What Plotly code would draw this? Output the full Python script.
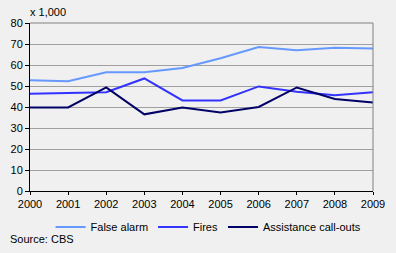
import plotly.graph_objects as go

years = [2000, 2001, 2002, 2003, 2004, 2005, 2006, 2007, 2008, 2009]
false_alarm = [52.7, 52.3, 56.5, 56.5, 58.6, 63.2, 68.6, 67.0, 68.2, 67.8]
fires = [46.3, 46.8, 47.0, 53.6, 43.1, 43.1, 49.8, 47.3, 45.6, 47.0]
assistance = [39.8, 39.8, 49.3, 36.5, 39.7, 37.4, 40.0, 49.3, 43.8, 42.2]

series = [
    ("False alarm", false_alarm, "#6699FF"),
    ("Fires", fires, "#3333FF"),
    ("Assistance call-outs", assistance, "#000066"),
]

fig = go.Figure()
for name, vals, col in series:
    fig.add_trace(go.Scatter(x=years, y=vals, mode="lines", name=name,
                             line=dict(color=col, width=2)))

font = dict(family="Liberation Sans, Arial, sans-serif", size=11, color="black")
fig.update_layout(
    width=396, height=253,
    margin=dict(l=30, r=23, t=23, b=62, autoexpand=False),
    paper_bgcolor="#F0F0F0", plot_bgcolor="#F0F0F0",
    font=font,
    showlegend=True,
    legend=dict(orientation="h", x=0.06, xanchor="left", y=-0.128, yanchor="top",
                font=font, bgcolor="rgba(0,0,0,0)", itemwidth=30, tracegroupgap=0,
                borderwidth=0),
    xaxis=dict(range=[2000, 2009], tickmode="array", tickvals=years,
               ticktext=[str(y) for y in years], showgrid=False,
               showline=True, linecolor="black", linewidth=1,
               ticks="outside", ticklen=3, tickcolor="black", zeroline=False,
               mirror=False),
    yaxis=dict(range=[0, 80], dtick=10, showgrid=True, gridcolor="#A0A0A0",
               gridwidth=1, showline=True, linecolor="black", linewidth=1,
               ticks="outside", ticklen=4, tickcolor="black", zeroline=False),
    shapes=[
        dict(type="line", xref="paper", yref="paper", x0=0, x1=1, y0=1, y1=1,
             line=dict(color="#808080", width=1)),
        dict(type="line", xref="paper", yref="paper", x0=1, x1=1, y0=0, y1=1,
             line=dict(color="#808080", width=1)),
    ],
    annotations=[
        dict(text="x 1,000", xref="paper", yref="paper", x=-0.005, y=1.02,
             xanchor="left", yanchor="bottom", showarrow=False, font=font),
        dict(text="Source: CBS", xref="paper", yref="paper", x=-0.065, y=-0.24,
             xanchor="left", yanchor="top", showarrow=False, font=font),
    ],
)

fig.write_html("out.html")
